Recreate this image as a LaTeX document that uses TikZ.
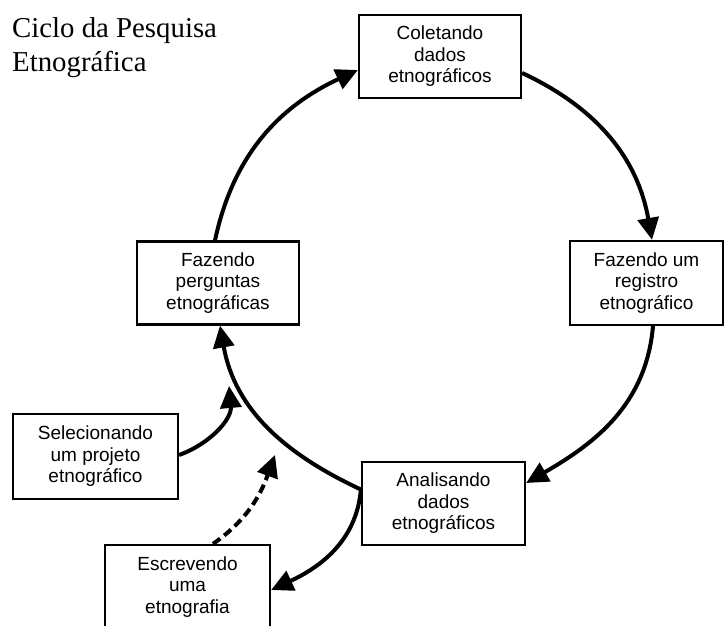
\documentclass[tikz,border=0pt]{standalone}
\usepackage{fontspec}
\setmainfont{Liberation Serif}
\setsansfont{Liberation Sans}
\usetikzlibrary{arrows.meta}
\begin{document}
\begin{tikzpicture}[x=1pt,y=1pt,
  stagebox/.style={draw, line width=2.2pt, rectangle, align=center, inner sep=0pt,
    font=\sffamily\fontsize{19}{21.5}\selectfont},
  flow/.style={line width=4pt, -{Triangle[length=22pt,width=21pt]}},
  flowdash/.style={flow, dash pattern=on 9pt off 5pt},
  titletext/.style={anchor=base west, inner sep=0pt, font=\fontsize{28.8}{34}\selectfont}]
\useasboundingbox (0,0) rectangle (725,626);
\clip (0,0) rectangle (725,626);

\node[titletext] (t1) at (12,588) {Ciclo da Pesquisa};
\node[titletext] (t2) at (12,554) {Etnográfica};

\node[stagebox, minimum width=162pt, minimum height=83pt] (coletando) at (440,569.5) {Coletando\\dados\\etnográficos};
\node[stagebox, minimum width=153pt, minimum height=84pt] (registro) at (646.5,343) {Fazendo um\\registro\\etnográfico};
\node[stagebox, minimum width=162pt, minimum height=83pt] (perguntas) at (218,343) {Fazendo\\perguntas\\etnográficas};
\node[stagebox, minimum width=165pt, minimum height=85pt] (selecionando) at (95.5,169.5) {Selecionando\\um projeto\\etnográfico};
\node[stagebox, minimum width=165pt, minimum height=84pt] (escrevendo) at (187.5,39) {Escrevendo\\uma\\etnografia};
\node[stagebox, minimum width=163pt, minimum height=83pt] (analisando) at (443.5,122.5) {Analisando\\dados\\etnográficos};

\coordinate (selend) at (229,240);
\coordinate (escend) at (275,171);

\draw[flow] ([xshift=-3pt]perguntas.north) to[out=78,in=205] ([yshift=-13.5pt]coletando.west);
\draw[flow] ([yshift=-16.5pt]coletando.east) to[out=-25,in=100] ([xshift=5.5pt]registro.north);
\draw[flow] ([xshift=6.5pt]registro.south) to[out=-95,in=30] ([yshift=20.5pt]analisando.east);
\draw[flow] ([yshift=14pt]analisando.west) to[out=155,in=-80] ([xshift=2pt]perguntas.south);
\draw[flow] ([yshift=14pt]analisando.west) to[out=-95,in=25] ([yshift=-3pt]escrevendo.east);
\draw[flow] ([yshift=1.5pt]selecionando.east) to[out=20,in=-85] (selend);
\draw[flowdash] ([xshift=25.5pt]escrevendo.north) to[out=35,in=-110] (escend);
\end{tikzpicture}
\end{document}
